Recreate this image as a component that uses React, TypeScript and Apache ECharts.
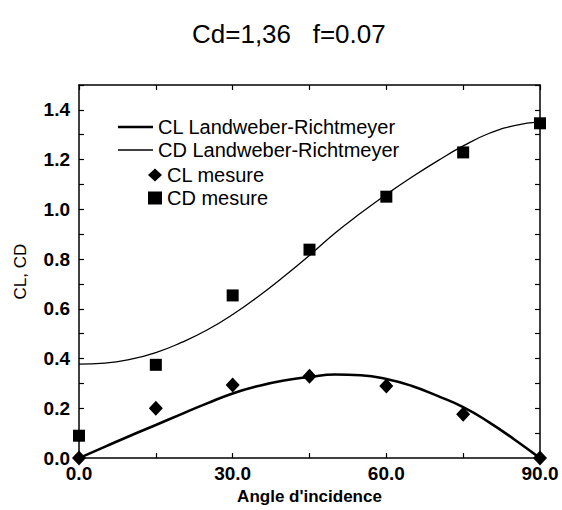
import React, { useEffect, useRef } from "react";
import * as echarts from "echarts";

const titleText = "Cd=1,36   f=0.07";
const xName = "Angle d'incidence";
const yName = "CL, CD";

const curveAngles = [0, 5, 10, 15, 20, 25, 30, 35, 40, 45, 50, 55, 60, 65, 70, 75, 80, 85, 90];
const clCurve = [0, 0.045, 0.09, 0.133, 0.177, 0.22, 0.26, 0.29, 0.312, 0.326, 0.336, 0.333, 0.318, 0.29, 0.25, 0.205, 0.145, 0.075, 0];
const cdCurve = [0.378, 0.382, 0.397, 0.424, 0.465, 0.515, 0.577, 0.65, 0.73, 0.815, 0.905, 0.985, 1.06, 1.13, 1.195, 1.255, 1.305, 1.337, 1.352];

const measAngles = [0, 15, 30, 45, 60, 75, 90];
const clMeas = [0, 0.2, 0.294, 0.329, 0.29, 0.176, 0];
const cdMeas = [0.09, 0.375, 0.654, 0.838, 1.051, 1.229, 1.346];

const names = ["CL Landweber-Richtmeyer", "CD Landweber-Richtmeyer", "CL mesure", "CD mesure"];

const FONT = "'Liberation Sans', Arial, Helvetica, sans-serif";

export default function App() {
  const ref = useRef<HTMLDivElement>(null);
  useEffect(() => {
    if (!ref.current) return;
    const chart = echarts.init(ref.current, null, { renderer: "svg" });
    const pairs = (xs: number[], ys: number[]) => xs.map((x, i) => [x, ys[i]]);
    const axisCommonX = {
      type: "value",
      min: 0,
      max: 90,
      interval: 15,
      axisLine: { show: true, onZero: false, lineStyle: { color: "#000", width: 1.5 } },
      axisTick: { show: true, inside: true, length: 5, lineStyle: { color: "#000", width: 1.2 } },
      splitLine: { show: false },
    };
    const axisCommonY = {
      type: "value",
      min: 0,
      max: 1.5,
      interval: 0.1,
      axisLine: { show: true, onZero: false, lineStyle: { color: "#000", width: 1.5 } },
      axisTick: { show: true, inside: true, length: 5, lineStyle: { color: "#000", width: 1.2 } },
      splitLine: { show: false },
    };
    const legendText = { fontFamily: FONT, fontSize: 20, color: "#000" };
    chart.setOption({
      animation: false,
      backgroundColor: "#fff",
      textStyle: { fontFamily: FONT, color: "#000" },
      title: {
        text: titleText,
        left: 187,
        top: 16,
        textStyle: { fontFamily: FONT, fontSize: 26, fontWeight: "normal", color: "#000" },
      },
      grid: { left: 79, right: 22, top: 85, bottom: 50, containLabel: false },
      legend: [
        {
          data: [{ name: names[0], icon: "rect" }],
          orient: "vertical",
          left: 118,
          top: 117,
          padding: 0,
          itemWidth: 35,
          itemHeight: 2.6,
          textStyle: legendText,
        },
        {
          data: [{ name: names[1], icon: "rect" }],
          orient: "vertical",
          left: 118,
          top: 140,
          padding: 0,
          itemWidth: 35,
          itemHeight: 1.4,
          textStyle: legendText,
        },
        {
          data: [names[2], names[3]],
          orient: "vertical",
          left: 148,
          top: 165,
          padding: 0,
          itemWidth: 14,
          itemHeight: 13,
          itemGap: 3,
          itemStyle: { opacity: 1 },
          textStyle: legendText,
        },
      ],
      xAxis: [
        {
          ...axisCommonX,
          position: "bottom",
          name: xName,
          nameLocation: "middle",
          nameGap: 29,
          nameTextStyle: { fontFamily: FONT, fontSize: 17, fontWeight: "bold", color: "#000" },
          axisLabel: {
            show: true,
            margin: 6,
            fontFamily: FONT,
            fontSize: 19,
            fontWeight: "bold",
            color: "#000",
            formatter: (v: number) => (Math.round(v) % 30 === 0 ? v.toFixed(1) : ""),
          },
        },
        {
          ...axisCommonX,
          position: "top",
          axisLabel: { show: false },
        },
      ],
      yAxis: [
        {
          ...axisCommonY,
          position: "left",
          name: yName,
          nameLocation: "middle",
          nameGap: 50,
          nameRotate: 90,
          nameTextStyle: { fontFamily: FONT, fontSize: 17, fontWeight: "normal", color: "#000" },
          axisLabel: {
            show: true,
            margin: 9,
            fontFamily: FONT,
            fontSize: 19,
            fontWeight: "bold",
            color: "#000",
            formatter: (v: number) => (Math.round(v * 10) % 2 === 0 ? v.toFixed(1) : ""),
          },
        },
        {
          ...axisCommonY,
          position: "right",
          axisLabel: { show: false },
        },
      ],
      series: [
        {
          name: names[0],
          type: "line",
          data: pairs(curveAngles, clCurve),
          smooth: true,
          symbol: "none",
          lineStyle: { color: "#000", width: 2.6 },
          itemStyle: { color: "#000" },
          z: 3,
        },
        {
          name: names[1],
          type: "line",
          data: pairs(curveAngles, cdCurve),
          smooth: true,
          symbol: "none",
          lineStyle: { color: "#000", width: 1.3 },
          itemStyle: { color: "#000" },
          z: 3,
        },
        {
          name: names[2],
          type: "scatter",
          data: pairs(measAngles, clMeas),
          symbol: "diamond",
          symbolSize: [14, 15],
          itemStyle: { color: "#000", opacity: 1 },
          clip: false,
          z: 4,
        },
        {
          name: names[3],
          type: "scatter",
          data: pairs(measAngles, cdMeas),
          symbol: "rect",
          symbolSize: 12,
          itemStyle: { color: "#000", opacity: 1 },
          clip: false,
          z: 4,
        },
      ],
    });
    return () => chart.dispose();
  }, []);
  return (
    <div
      ref={ref}
      style={{ position: "absolute", left: 0, top: 0, width: 562, height: 510, background: "#fff" }}
    />
  );
}
